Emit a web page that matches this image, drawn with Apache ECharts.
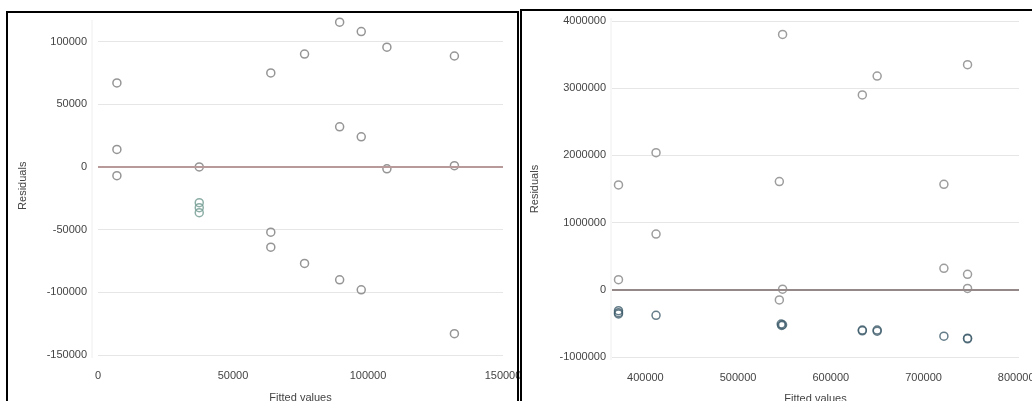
<!DOCTYPE html>
<html>
<head>
<meta charset="utf-8">
<script src="https://cdn.jsdelivr.net/npm/echarts@6/dist/echarts.min.js"></script>
<style>html,body{margin:0;padding:0;background:#fff;overflow:hidden}#c{width:1032px;height:401px}</style>
</head>
<body>
<div id="c"></div>
<script>
// Left panel: fitted values / residuals
var leftGrayX = [7000, 7000, 7000, 37500, 64000, 64000, 64000, 76500, 76500, 89500, 89500, 89500, 97500, 97500, 97500, 107000, 107000, 132000, 132000, 132000];
var leftGrayY = [67000, 14000, -7000, 0, 75000, -52000, -64000, 90000, -77000, 115500, 32000, -90000, 108000, 24000, -98000, 95500, -1500, 88500, 1000, -133000];
var leftTealX = [37500, 37500, 37500];
var leftTealY = [-28500, -32500, -36500];
// Right panel
var rightGrayX = [371000, 371000, 411500, 411500, 548000, 544500, 544500, 548000, 634000, 650000, 722000, 722000, 747500, 747500, 747500];
var rightGrayY = [1560000, 150000, 2040000, 830000, 3800000, 1610000, -150000, 10000, 2900000, 3180000, 1570000, 320000, 3350000, 230000, 20000];
var rightDarkX = [371000, 371000, 371000, 411500, 546500, 548000, 547000, 634000, 634000, 650000, 650000, 722000, 747500, 747500];
var rightDarkY = [-310000, -340000, -360000, -380000, -510000, -520000, -530000, -600000, -610000, -600000, -615000, -690000, -720000, -730000];
var xName = 'Fitted values';
var yName = 'Residuals';

function pairs(xs, ys) { return xs.map(function (x, i) { return [x, ys[i]]; }); }

var font = 'Liberation Sans, Arial, sans-serif';
var labelStyle = { color: '#444', fontSize: 11, fontFamily: font };
var nameStyle = { color: '#444', fontSize: 11, fontFamily: font };
var splitStyle = { show: true, showMaxLine: false, showMinLine: true, lineStyle: { color: '#e6e6e6', width: 1 } };

function scat(xi, data, color) {
  return {
    type: 'scatter', xAxisIndex: xi, yAxisIndex: xi, data: data,
    symbol: 'circle', symbolSize: 8,
    itemStyle: { color: 'rgba(255,255,255,0)', borderColor: color, borderWidth: 1.5 },
    silent: true
  };
}
function plain(v) { return String(v); }

var chart = echarts.init(document.getElementById('c'), null, { renderer: 'canvas', width: 1032, height: 401 });
chart.setOption({
  backgroundColor: '#fff',
  animation: false,
  graphic: [
    { type: 'rect', shape: { x: 7, y: 12, width: 511, height: 420 }, style: { fill: 'none', stroke: '#000', lineWidth: 2 }, z: 100 },
    { type: 'rect', shape: { x: 521, y: 10, width: 530, height: 420 }, style: { fill: 'none', stroke: '#000', lineWidth: 2 }, z: 100 },
    { type: 'line', shape: { x1: 92, y1: 20, x2: 92, y2: 358 }, style: { stroke: '#eeeeee', lineWidth: 1 } },
    { type: 'line', shape: { x1: 611, y1: 18, x2: 611, y2: 360 }, style: { stroke: '#eeeeee', lineWidth: 1 } }
  ],
  grid: [
    { left: 98, width: 405, top: 16.5, height: 338.5, outerBoundsMode: 'none', containLabel: false },
    { left: 612, width: 407, top: 21, height: 336, outerBoundsMode: 'none', containLabel: false }
  ],
  xAxis: [
    { gridIndex: 0, type: 'value', min: 0, max: 150000, interval: 50000,
      name: xName, nameLocation: 'middle', nameGap: 37, nameTextStyle: nameStyle,
      axisLine: { show: false }, axisTick: { show: false }, splitLine: { show: false },
      axisLabel: Object.assign({ margin: 15, formatter: plain }, labelStyle) },
    { gridIndex: 1, type: 'value', min: 364000, max: 803000,
      name: xName, nameLocation: 'middle', nameGap: 36, nameTextStyle: nameStyle,
      axisLine: { show: false }, axisTick: { show: false }, splitLine: { show: false },
      axisLabel: Object.assign({ margin: 15, showMinLabel: false, showMaxLabel: false,
        formatter: function (v) { return v % 100000 === 0 ? String(v) : ''; } }, labelStyle) }
  ],
  yAxis: [
    { gridIndex: 0, type: 'value', min: -150000, max: 120000, interval: 50000,
      name: yName, nameLocation: 'middle', nameGap: 70, nameTextStyle: nameStyle,
      axisLine: { show: false }, axisTick: { show: false }, splitLine: splitStyle,
      axisLabel: Object.assign({ margin: 11, showMaxLabel: false,
        formatter: function (v) { return v % 50000 === 0 ? String(v) : ''; } }, labelStyle) },
    { gridIndex: 1, type: 'value', min: -1000000, max: 4000000, interval: 1000000,
      name: yName, nameLocation: 'middle', nameGap: 72, nameTextStyle: nameStyle,
      axisLine: { show: false }, axisTick: { show: false },
      splitLine: { show: true, lineStyle: { color: '#e6e6e6', width: 1 } },
      axisLabel: Object.assign({ margin: 6, formatter: plain }, labelStyle) }
  ],
  series: [
    Object.assign(scat(0, pairs(leftGrayX, leftGrayY), '#7a7a7a'), {
      markLine: { silent: true, symbol: 'none', label: { show: false },
        lineStyle: { color: '#b89a9a', width: 2, type: 'solid' }, data: [{ yAxis: 0 }] } }),
    scat(0, pairs(leftTealX, leftTealY), '#6f9a90'),
    Object.assign(scat(1, pairs(rightGrayX, rightGrayY), '#858585'), {
      markLine: { silent: true, symbol: 'none', label: { show: false },
        lineStyle: { color: '#958888', width: 2, type: 'solid' }, data: [{ yAxis: 0 }] } }),
    scat(1, pairs(rightDarkX, rightDarkY), '#3f5d6c')
  ]
});
</script>
</body>
</html>
